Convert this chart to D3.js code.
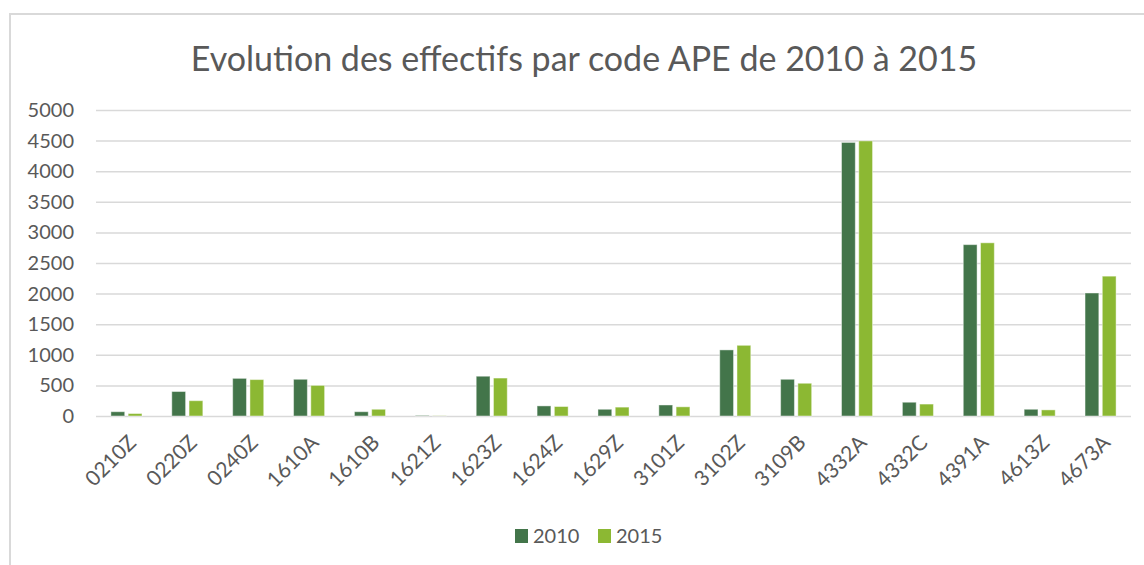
<!DOCTYPE html>
<html>
<head>
<meta charset="utf-8">
<script src="https://cdn.jsdelivr.net/npm/d3@7"></script>
<style>
  html,body{margin:0;padding:0;background:#fff;}
  svg{display:block;}
  svg text{font-family:Lato,"Open Sans",sans-serif;}
</style>
</head>
<body>
<svg id="chart" width="1144" height="565"></svg>
<script>
// ---- data ----
const codes = ['0210Z','0220Z','0240Z','1610A','1610B','1621Z','1623Z','1624Z','1629Z','3101Z','3102Z','3109B','4332A','4332C','4391A','4613Z','4673A'];
const years = ['2010','2015'];
const v2010 = [70, 400, 615, 600, 70, 8, 650, 165, 110, 180, 1080, 600, 4470, 225, 2800, 110, 2010];
const v2015 = [40, 250, 595, 500, 110, 3, 620, 155, 145, 150, 1155, 535, 4495, 195, 2830, 100, 2285];
const yTicks = [0,500,1000,1500,2000,2500,3000,3500,4000,4500,5000];
const title = 'Evolution des effectifs par code APE de 2010 à 2015';

const colors = {'2010':'#43754a','2015':'#8cb833'};
const ink = '#595959', grid = '#d9d9d9';

const svg = d3.select('#chart');
const W = 1144, H = 565;
const m = {l:96, r:W-1131, t:110, b:H-416};

// chart frame (clipped on right/bottom like the source)
svg.append('path').attr('d', `M10,${H+5}V14H${W+5}`)
  .attr('fill','none').attr('stroke',grid).attr('stroke-width',2);

svg.append('text').attr('x',584).attr('y',71).attr('text-anchor','middle')
  .attr('fill',ink).style('font-size','34px').text(title);

const x0 = d3.scaleBand().domain(codes).range([m.l, W-m.r]).paddingInner(0.49).paddingOuter(0.245);
const x1 = d3.scaleBand().domain(years).range([0, x0.bandwidth()]).paddingInner(0.2);
const y = d3.scaleLinear().domain([0,5000]).range([H-m.b, m.t]);

// gridlines + y labels
const ya = svg.append('g').attr('transform',`translate(${m.l},0)`)
  .call(d3.axisLeft(y).tickValues(yTicks).tickFormat(d3.format('d')).tickSize(-(W-m.l-m.r)).tickPadding(22));
ya.attr('font-family',null);
ya.select('.domain').remove();
ya.selectAll('.tick line').attr('stroke',grid).attr('stroke-width',1.5);
ya.selectAll('.tick text').attr('fill',ink).style('font-size','20px');

// bars
const rows = codes.map((c,i)=>({code:c, vals:[{k:'2010',v:v2010[i]},{k:'2015',v:v2015[i]}]}));
svg.append('g').selectAll('g').data(rows).join('g')
  .attr('transform',d=>`translate(${x0(d.code)},0)`)
  .selectAll('rect').data(d=>d.vals).join('rect')
  .attr('x',d=>x1(d.k)).attr('width',x1.bandwidth())
  .attr('y',d=>y(d.v)).attr('height',d=>y(0)-y(d.v))
  .attr('fill',d=>colors[d.k])
  .attr('stroke','rgba(255,255,255,0.45)').attr('stroke-width',1);

// x labels
const xa = svg.append('g').attr('transform',`translate(0,${H-m.b})`)
  .call(d3.axisBottom(x0).tickSize(0).tickPadding(0));
xa.attr('font-family',null);
xa.select('.domain').remove();
xa.selectAll('.tick text')
  .attr('fill',ink).style('font-size','21px')
  .attr('text-anchor','end').attr('dy',null).attr('y',null)
  .attr('transform','translate(11,28) rotate(-45)');

// legend
const leg = svg.append('g').attr('transform','translate(515,529)');
const li = leg.selectAll('g').data(years).join('g').attr('transform',(d,i)=>`translate(${i*83},0)`);
li.append('rect').attr('width',13).attr('height',14).attr('fill',d=>colors[d]);
li.append('text').attr('x',18).attr('y',14).attr('fill',ink).style('font-size','20px').text(d=>d);
</script>
</body>
</html>
